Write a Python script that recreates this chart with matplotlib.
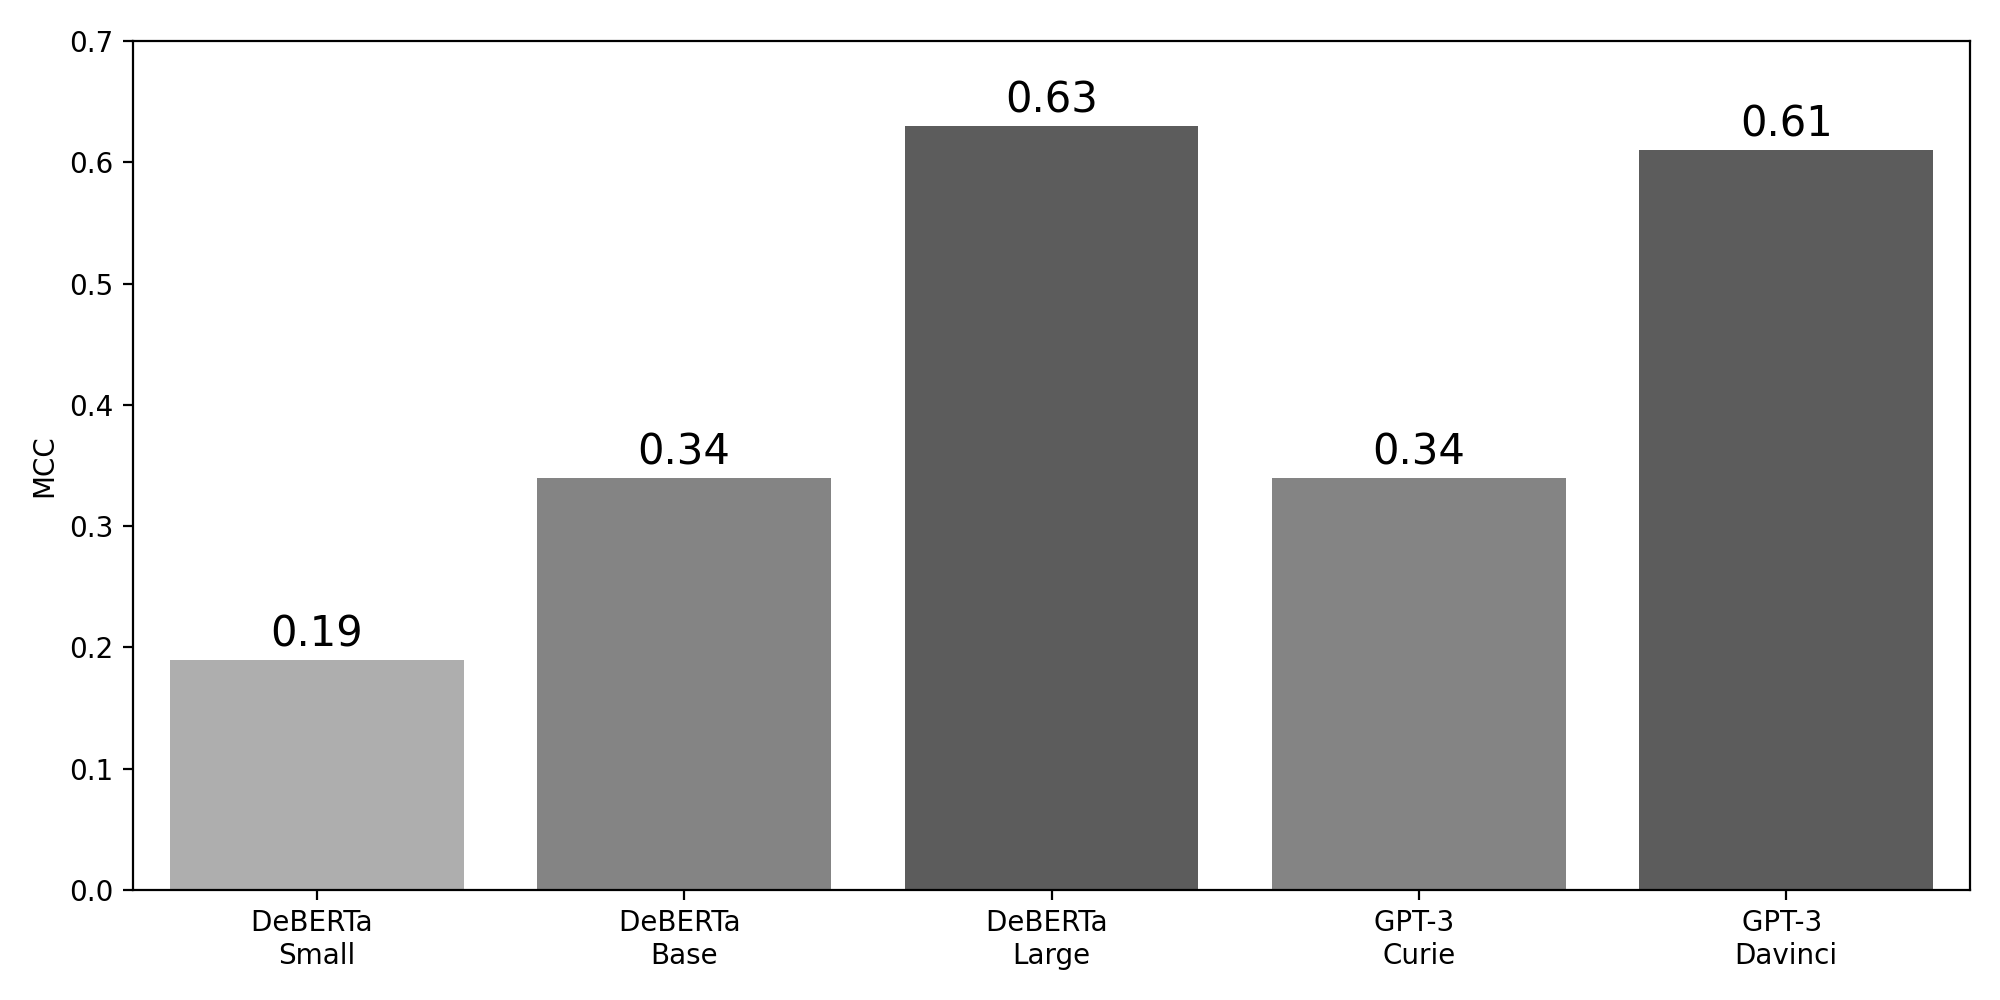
import matplotlib
matplotlib.use("Agg")
import matplotlib.pyplot as plt

models = ["DeBERTa Small", "DeBERTa Base", "DeBERTa Large", "GPT-3 Curie", "GPT-3 Davinci"]
mcc = [0.19, 0.34, 0.63, 0.34, 0.61]
colors = ["#aeaeae", "#848484", "#5c5c5c", "#848484", "#5c5c5c"]

fig, ax = plt.subplots(figsize=(10, 5), dpi=200)
x = range(len(models))
bars = ax.bar(x, mcc, width=0.8, color=colors)
for b, v in zip(bars, mcc):
    ax.text(b.get_x() + b.get_width() / 2, v + 0.0035, f"{v:.2f}",
            ha="center", va="bottom", fontsize=15)

ax.set_xticks(list(x))
ax.set_xticklabels([m.replace(" ", " \n") for m in models])
ax.set_xlim(-0.5, len(models) - 0.5)
ax.set_ylim(0, 0.7)
ax.set_ylabel("MCC")

plt.subplots_adjust(left=0.0665, right=0.985, top=0.959, bottom=0.11)
plt.savefig("out.png")
